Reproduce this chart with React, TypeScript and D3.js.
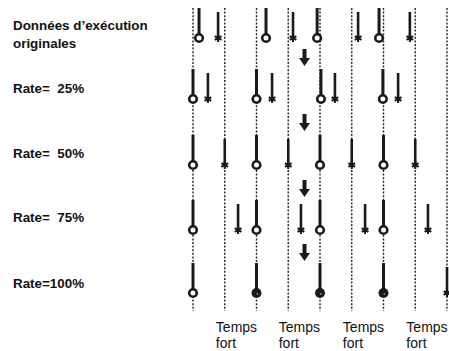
import React from "react";
import * as d3 from "d3";

// Beat grid (strong beats / temps fort at every other line)
const beatLines = [0, 1, 2, 3, 4, 5, 6, 7, 8];

// Row labels
const rowLabels = [
  ["Données d’exécution", "originales"],
  ["Rate=  25%"],
  ["Rate=  50%"],
  ["Rate=  75%"],
  ["Rate=100%"],
];

// Note positions in beat units, per row; kind: c = circle head, s = star head, f = filled circle
const row0Pos = [0.19, 0.79, 2.3, 3.15, 3.91, 5.2, 5.86, 6.83];
const row0Kind = ["c", "s", "c", "s", "c", "s", "c", "s"];
const row1Pos = [0, 0.47, 2.0, 2.49, 4.03, 4.47, 5.98, 6.46];
const row1Kind = ["c", "s", "c", "s", "c", "s", "c", "s"];
const row2Pos = [0, 1, 2, 3, 4, 5, 6, 7];
const row2Kind = ["c", "s", "c", "s", "c", "s", "c", "s"];
const row3Pos = [0, 1.42, 2, 3.4, 4, 5.42, 6, 7.4];
const row3Kind = ["c", "s", "c", "s", "c", "s", "c", "s"];
const row4Pos = [0, 2, 4, 6, 8];
const row4Kind = ["c", "f", "f", "f", "s"];

const rowsPos = [row0Pos, row1Pos, row2Pos, row3Pos, row4Pos];
const rowsKind = [row0Kind, row1Kind, row2Kind, row3Kind, row4Kind];

// Bottom labels (under strong beats)
const strongBeatLabels = ["Temps", "Temps", "Temps", "Temps"];
const strongBeatLabelBeats = [0.72, 2.7, 4.72, 6.72];

export default function App() {
  const W = 449;
  const H = 351;
  const x = d3.scaleLinear().domain([0, 8]).range([193, 447]);
  const rowIdx = [0, 1, 2, 3, 4];
  const headY = d3.scaleOrdinal<number, number>().domain(rowIdx).range([38, 99, 165, 230, 293]);
  const labelY = d3.scaleOrdinal<number, number>().domain(rowIdx).range([30, 93, 158, 222, 288]);
  const arrowTipY = [66, 131, 197, 261];
  const arrowX = 304.5;
  const asterisk = d3.symbol().type(d3.symbolAsterisk).size(42)() as string;
  const ink = "#1a1a1a";

  return (
    <svg
      width={W}
      height={H}
      style={{ position: "absolute", left: 0, top: 0, background: "#fff" }}
      fontFamily="'Liberation Sans', Arial, Helvetica, sans-serif"
    >
      {/* dashed beat lines */}
      {beatLines.map((b) => (
        <line
          key={"bl" + b}
          x1={x(b)}
          x2={x(b)}
          y1={8}
          y2={311}
          stroke="#222"
          strokeWidth={1.4}
          strokeDasharray="2,1.6"
        />
      ))}

      {/* row labels */}
      {rowLabels.map((lines, i) => (
        <text
          key={"rl" + i}
          x={13}
          y={labelY(i)}
          fontSize={13.4}
          fontWeight="bold"
          fill="#111"
          style={{ whiteSpace: "pre" }}
        >
          {lines.map((t, j) => (
            <tspan key={j} x={13} dy={j === 0 ? 0 : 18}>
              {t}
            </tspan>
          ))}
        </text>
      ))}

      {/* notes */}
      {rowsPos.map((pos, r) =>
        pos.map((p, k) => {
          const kind = rowsKind[r][k];
          const cx = x(p);
          const cy = headY(r);
          const stemLen = kind === "s" ? 26 : 30;
          return (
            <g key={`n${r}-${k}`}>
              <line
                x1={cx}
                x2={cx}
                y1={cy - stemLen}
                y2={cy}
                stroke={ink}
                strokeWidth={kind === "s" ? 2.6 : 3}
              />
              {kind === "c" && (
                <circle cx={cx} cy={cy} r={3.8} fill="#fff" stroke={ink} strokeWidth={2.6} />
              )}
              {kind === "f" && (
                <g>
                  <circle cx={cx} cy={cy} r={5} fill={ink} />
                  <circle cx={cx + 0.8} cy={cy + 1} r={0.8} fill="#bbb" />
                </g>
              )}
              {kind === "s" && (
                <g transform={`translate(${cx},${cy})`}>
                  <path d={asterisk} fill="none" stroke={ink} strokeWidth={2} />
                  <circle r={2.3} fill={ink} />
                </g>
              )}
            </g>
          );
        })
      )}

      {/* arrows */}
      {arrowTipY.map((ty, i) => (
        <path
          key={"ar" + i}
          d={`M${arrowX - 2},${ty - 17} L${arrowX + 2},${ty - 17} L${arrowX + 2},${ty - 8} L${arrowX + 5.5},${ty - 8} L${arrowX},${ty} L${arrowX - 5.5},${ty - 8} L${arrowX - 2},${ty - 8} Z`}
          fill={ink}
        />
      ))}

      {/* strong beat labels */}
      {strongBeatLabels.map((t, i) => (
        <text key={"sb" + i} x={x(strongBeatLabelBeats[i])} y={332} fontSize={14} fill="#111">
          <tspan x={x(strongBeatLabelBeats[i])}>{t}</tspan>
          <tspan x={x(strongBeatLabelBeats[i])} dy={16}>
            fort
          </tspan>
        </text>
      ))}
    </svg>
  );
}
